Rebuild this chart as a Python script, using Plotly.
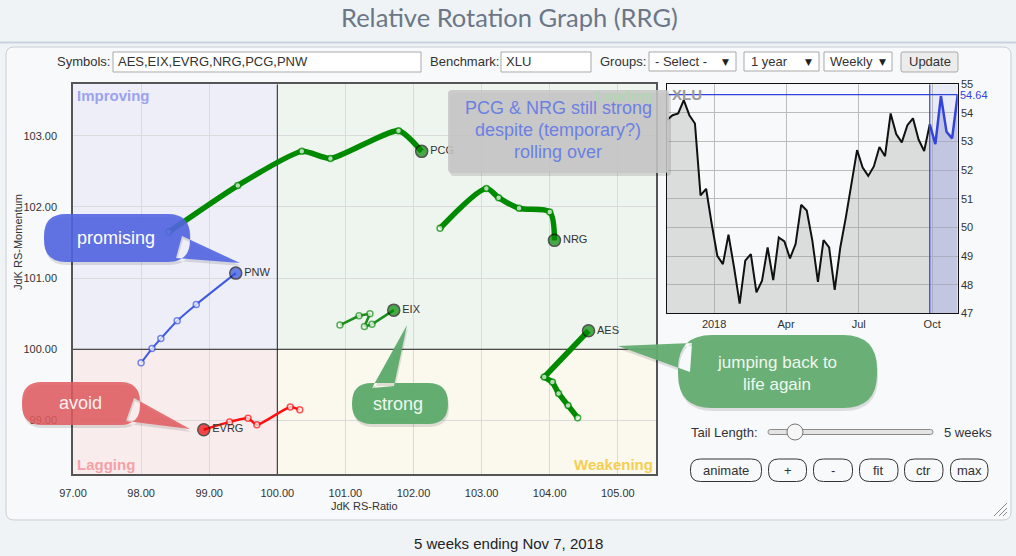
import plotly.graph_objects as go
import pandas as pd

W, H = 1016, 556

# ---------------- DATA ----------------
symbols = ["AES", "EIX", "EVRG", "NRG", "PCG", "PNW"]
aes_x = [104.41, 104.27, 104.13, 104.04, 103.92, 104.57]
aes_y = [99.04, 99.21, 99.38, 99.54, 99.61, 100.26]
eix_x = [100.92, 101.20, 101.36, 101.28, 101.39, 101.71]
eix_y = [100.34, 100.47, 100.50, 100.32, 100.35, 100.55]
evrg_x = [100.33, 100.19, 99.70, 99.57, 99.30, 98.92]
evrg_y = [99.15, 99.19, 98.94, 99.03, 98.98, 98.87]
nrg_x = [102.39, 103.07, 103.25, 103.55, 104.00, 104.07]
nrg_y = [101.70, 102.26, 102.13, 101.98, 101.93, 101.53]
pcg_x = [98.41, 99.42, 100.36, 100.78, 101.78, 102.12]
pcg_y = [101.65, 102.30, 102.78, 102.68, 103.07, 102.78]
pnw_x = [98.00, 98.16, 98.29, 98.53, 98.81, 99.39]
pnw_y = [99.81, 100.01, 100.15, 100.40, 100.63, 101.07]

x_ticks = [97, 98, 99, 100, 101, 102, 103, 104, 105]
y_ticks = [99, 100, 101, 102, 103]

xlu_close = [53.75, 53.92, 53.98, 54.45, 53.92, 53.63, 51.12, 51.35, 50.12, 49.01,
             48.72, 49.75, 48.60, 47.34, 48.84, 49.07, 47.73, 48.14, 49.30, 48.16,
             49.65, 49.51, 48.92, 49.42, 50.79, 50.59, 49.54, 48.10, 49.56, 49.30,
             47.82, 49.30, 50.36, 51.53, 52.70, 52.09, 51.80, 52.13, 52.81, 52.49,
             53.98, 53.26, 52.97, 53.57, 53.81, 53.07, 52.67, 53.60, 52.91, 54.59,
             53.34, 53.11, 54.64]
xlu_dates = list(pd.date_range(end="2018-11-02", periods=len(xlu_close), freq="7D"))
xlu_last = 54.64
tail_weeks = 5
mini_tickvals = ["2018-01-01", "2018-04-01", "2018-07-01", "2018-10-01"]
mini_ticktext = ["2018", "Apr", "Jul", "Oct"]
mini_yticks = [47, 48, 49, 50, 51, 52, 53, 54, 55]

FONT = "Liberation Sans, Arial, sans-serif"


def X(p):
    return p / W


def Y(p):
    return 1 - p / H


def rr_path(x0, y0, x1, y1, r, dx=0, dy=0):
    x0 += dx; x1 += dx; y0 += dy; y1 += dy
    f = lambda a, b: f"{X(a):.5f},{Y(b):.5f}"
    return (f"M {f(x0 + r, y0)} L {f(x1 - r, y0)} Q {f(x1, y0)} {f(x1, y0 + r)} "
            f"L {f(x1, y1 - r)} Q {f(x1, y1)} {f(x1 - r, y1)} L {f(x0 + r, y1)} "
            f"Q {f(x0, y1)} {f(x0, y1 - r)} L {f(x0, y0 + r)} Q {f(x0, y0)} {f(x0 + r, y0)} Z")


def tri_path(pts, dx=0, dy=0):
    pts = [(a + dx, b + dy) for a, b in pts]
    area = sum(pts[i][0] * pts[(i + 1) % 3][1] - pts[(i + 1) % 3][0] * pts[i][1] for i in range(3))
    if area < 0:
        pts = pts[::-1]
    return "M " + " L ".join(f"{X(a):.5f},{Y(b):.5f}" for a, b in pts) + " Z"


shapes = []
annotations = []


def ann(text, x, y, size=13, color="#333", xanchor="center", family=FONT, bold=False, angle=0):
    if bold:
        text = f"<b>{text}</b>"
    annotations.append(dict(text=text, x=X(x), y=Y(y), xref="paper", yref="paper",
                            xanchor=xanchor, yanchor="middle", showarrow=False,
                            textangle=angle, font=dict(size=size, color=color, family=family)))


def rect(x0, y0, x1, y1, fill, line="#aaa", lw=1, r=0, layer="above"):
    if r > 0:
        shapes.append(dict(type="path", path=rr_path(x0, y0, x1, y1, r), xref="paper", yref="paper",
                           fillcolor=fill, line=dict(color=line, width=lw), layer=layer))
    else:
        shapes.append(dict(type="rect", x0=X(x0), x1=X(x1), y0=Y(y0), y1=Y(y1), xref="paper",
                           yref="paper", fillcolor=fill, line=dict(color=line, width=lw), layer=layer))


def bubble(box, r, tri, color, opacity=1.0):
    x0, y0, x1, y1 = box
    sp = rr_path(x0, y0, x1, y1, r, 1, 3) + " " + tri_path(tri, 1, 3)
    shapes.append(dict(type="path", path=sp, xref="paper", yref="paper",
                       fillcolor="rgba(0,0,0,0.11)", line=dict(width=0), layer="above"))
    p = rr_path(x0, y0, x1, y1, r) + " " + tri_path(tri)
    shapes.append(dict(type="path", path=p, xref="paper", yref="paper", fillcolor=color,
                       opacity=opacity, line=dict(width=0), layer="above"))


# ---------------- page / panel ----------------
shapes.append(dict(type="line", x0=0, x1=1, y0=Y(42.5), y1=Y(42.5), xref="paper", yref="paper",
                   line=dict(color="#c9d3de", width=2), layer="below"))
rect(6, 47, 1011, 520, "#f8f9fa", line="#c9cdd2", lw=1, r=8, layer="below")

# ---------------- quadrants (data coords) ----------------
xr = [97, 105.561]
yr = [98.244, 103.722]
quads = [(xr[0], 100, 100, yr[1], "#eeeef9"), (100, 100, xr[1], yr[1], "#eef4ee"),
         (xr[0], yr[0], 100, 100, "#f9ecec"), (100, yr[0], xr[1], 100, "#fbf8ee")]
for a, b, c, d, col in quads:
    shapes.append(dict(type="rect", xref="x", yref="y", x0=a, x1=c, y0=b, y1=d,
                       fillcolor=col, line=dict(width=0), layer="below"))
shapes.append(dict(type="line", xref="x", yref="y", x0=100, x1=100, y0=yr[0], y1=yr[1],
                   line=dict(color="#222", width=1), layer="between"))
shapes.append(dict(type="line", xref="x", yref="y", x0=xr[0], x1=xr[1], y0=100, y1=100,
                   line=dict(color="#222", width=1), layer="between"))

# mini-chart highlight region & lines
shapes.append(dict(type="rect", xref="x2", yref="y2", x0=xlu_dates[-1 - tail_weeks], x1=xlu_dates[-1],
                   y0=47, y1=55, fillcolor="rgba(185,190,235,0.25)", line=dict(width=0), layer="below"))
shapes.append(dict(type="line", xref="x2", yref="y2", x0=xlu_dates[-1 - tail_weeks], x1=xlu_dates[-1 - tail_weeks],
                   y0=47, y1=55, line=dict(color="#3344dd", width=1.2), layer="above"))
shapes.append(dict(type="line", xref="x2", yref="y2", x0=xlu_dates[0], x1=xlu_dates[-1],
                   y0=xlu_last, y1=xlu_last, line=dict(color="#3344dd", width=1.2), layer="above"))

fig = go.Figure()

# ---------------- RRG trails ----------------
series = [
    ("PCG", pcg_x, pcg_y, "#008a00", "#008a00", 5.5, "spline", 0.6),
    ("NRG", nrg_x, nrg_y, "#008a00", "#008a00", 5.5, "spline", 0.8),
    ("AES", aes_x, aes_y, "#008a00", "#008a00", 5.5, "linear", 0),
    ("EIX", eix_x, eix_y, "#1a8f1a", "#008a00", 2.5, "linear", 0),
    ("PNW", pnw_x, pnw_y, "#3f5ae0", "#3050e0", 2, "spline", 0.5),
    ("EVRG", evrg_x, evrg_y, "#ff1010", "#ee0000", 2.5, "spline", 0.6),
]
for name, xs, ys, lc, hc, lw, shape, sm in series:
    n = len(xs)
    line = dict(color=lc, width=lw, shape=shape)
    if shape == "spline":
        line["smoothing"] = sm
    fig.add_trace(go.Scatter(
        x=xs, y=ys, mode="lines+markers+text", xaxis="x", yaxis="y", line=line,
        marker=dict(size=[6] * (n - 1) + [12], color=["white"] * (n - 1) + [hc],
                    line=dict(color=[lc] * (n - 1) + ["#111"], width=[1.5] * (n - 1) + [1.5])),
        text=[""] * (n - 1) + [name], textposition="middle right",
        textfont=dict(size=11, color="#333", family=FONT),
        hoverinfo="skip", showlegend=False))

# ---------------- mini benchmark chart ----------------
k = len(xlu_close) - 1 - tail_weeks
fig.add_trace(go.Scatter(x=xlu_dates[:k + 1], y=xlu_close[:k + 1], mode="lines", xaxis="x2", yaxis="y2",
                         line=dict(color="#111", width=2), fill="tozeroy",
                         fillcolor="rgba(160,160,160,0.32)", hoverinfo="skip", showlegend=False))
fig.add_trace(go.Scatter(x=xlu_dates[k:], y=xlu_close[k:], mode="lines", xaxis="x2", yaxis="y2",
                         line=dict(color="#3344dd", width=2.5), fill="tozeroy",
                         fillcolor="rgba(150,155,200,0.45)", hoverinfo="skip", showlegend=False))

# ---------------- callouts ----------------
bubble((44, 214, 190, 262), 22, [(182, 236), (176, 258), (240, 263)], "rgb(82,102,226)", 0.9)
ann("promising", 116, 238, size=18, color="white")
bubble((22, 382, 140, 425), 20, [(134, 398), (126, 421), (190, 429)], "rgb(226,92,96)", 0.86)
ann("avoid", 80, 403, size=18, color="#fff0f0")
bubble((352, 383, 448, 424), 20, [(372, 388), (394, 386), (407, 325)], "rgb(92,170,108)", 0.95)
ann("strong", 398, 404, size=18, color="#eef8ee")
bubble((678, 335, 877, 408), 34, [(692, 343), (690, 372), (618, 346)], "rgb(98,172,112)", 0.95)
ann("jumping back to", 777, 362, size=17, color="#eef8ee")
ann("life again", 777, 384, size=17, color="#eef8ee")

# grey note box
shapes.append(dict(type="path", path=rr_path(448, 90, 669, 173, 4, 2, 3), xref="paper", yref="paper",
                   fillcolor="rgba(0,0,0,0.12)", line=dict(width=0), layer="above"))
shapes.append(dict(type="path", path=rr_path(448, 90, 669, 173, 4), xref="paper", yref="paper",
                   fillcolor="rgba(198,198,198,0.88)", line=dict(width=0), layer="above"))
for t, yy in [("PCG &amp; NRG still strong", 108), ("despite (temporary?)", 130), ("rolling over", 152)]:
    ann(t, 558, yy, size=18, color="rgb(108,128,226)")

# quadrant labels
ann("Improving", 75, 95, size=15, color="#9ba2ee", xanchor="left", bold=True)
ann("Leading", 655, 95, size=15, color="#b3d6b3", xanchor="right", bold=True)
ann("Lagging", 75, 464, size=15, color="#f3a1a8", xanchor="left", bold=True)
ann("Weakening", 655, 464, size=15, color="#f2cf52", xanchor="right", bold=True)

# axis titles
ann("JdK RS-Ratio", 364.5, 506, size=11, color="#333")
ann("JdK RS-Momentum", 18, 242, size=11, color="#333", angle=-90)

# mini chart texts
ann("XLU", 670, 94, size=15, color="#9a9a9a", xanchor="left", bold=True)
ann("54.64", 958, 95, size=11, color="#3344dd", xanchor="left")

# ---------------- title & footer ----------------
ann("Relative Rotation Graph (RRG)", 509, 17, size=25.5, color="#6b7786", family="Lato, sans-serif")
ann("5 weeks ending Nov 7, 2018", 508, 543, size=15, color="#222")

# ---------------- control row ----------------
ann("Symbols:", 55, 62, size=13, xanchor="left")
rect(113, 52, 421, 72, "white", line="#a9a9a9")
ann("AES,EIX,EVRG,NRG,PCG,PNW", 116, 62, size=13, xanchor="left")
ann("Benchmark:", 428, 62, size=13, xanchor="left")
rect(501, 52, 591, 72, "white", line="#a9a9a9")
ann("XLU", 504, 62, size=13, xanchor="left")
ann("Groups:", 598, 62, size=13, xanchor="left")
rect(649, 52, 736, 71, "white", line="#a9a9a9")
ann("- Select -", 653, 62, size=13, xanchor="left")
ann("▼", 725, 62, size=9, family="DejaVu Sans", color="#222")
rect(744, 52, 819, 71, "white", line="#a9a9a9")
ann("1 year", 749, 62, size=13, xanchor="left")
ann("▼", 808, 62, size=9, family="DejaVu Sans", color="#222")
rect(824, 52, 892, 71, "white", line="#a9a9a9")
ann("Weekly", 828, 62, size=13, xanchor="left")
ann("▼", 882, 62, size=9, family="DejaVu Sans", color="#222")
rect(901, 52, 958, 72, "#ececec", line="#a9a9a9", r=2)
ann("Update", 929.5, 62, size=13)

# ---------------- slider & buttons ----------------
ann("Tail Length:", 689, 432, size=13, xanchor="left")
rect(768, 429.5, 933, 434.5, "#e4e4e4", line="#8a8a8a", r=2.4)
shapes.append(dict(type="circle", xref="paper", yref="paper", x0=X(787), x1=X(803), y0=Y(424), y1=Y(440),
                   fillcolor="#f6f6f6", line=dict(color="#777", width=1), layer="above"))
ann("5 weeks", 942, 432, size=13, xanchor="left")
for label, a, b in [("animate", 690.5, 761.5), ("+", 768.5, 806.5), ("-", 813.5, 852.5),
                    ("fit", 859.5, 898), ("ctr", 904.5, 943), ("max", 950.5, 988)]:
    rect(a, 459, b, 481.5, "#f8f9fa", line="#333", lw=1, r=10)
    ann(label, (a + b) / 2, 470.5, size=13)

# resize grip
for (a, b, c, d) in [(1007, 503, 994, 516), (1007, 508, 999, 516), (1007, 512, 1003, 516)]:
    shapes.append(dict(type="line", xref="paper", yref="paper", x0=X(a), y0=Y(b), x1=X(c), y1=Y(d),
                       line=dict(color="#888", width=1), layer="above"))

fig.update_layout(
    width=W, height=H, margin=dict(l=0, r=0, t=0, b=0, pad=0, autoexpand=False),
    paper_bgcolor="#eff3f6", plot_bgcolor="#f7f7f7",
    font=dict(family=FONT, size=11, color="#333"),
    showlegend=False, shapes=shapes, annotations=annotations,
    xaxis=dict(domain=[X(73), X(656)], range=xr, tickvals=x_ticks, tickformat=".2f",
               showgrid=True, gridcolor="#dadada", gridwidth=1, zeroline=False,
               showline=True, mirror=True, linecolor="#555", linewidth=1.5, automargin=False,
               ticks="", ticklabelstandoff=8, tickfont=dict(size=11, color="#333"),
               anchor="y", fixedrange=True),
    yaxis=dict(domain=[Y(474.3), Y(84.3)], range=yr, tickvals=y_ticks, tickformat=".2f",
               showgrid=True, gridcolor="#dadada", gridwidth=1, zeroline=False,
               showline=True, mirror=True, linecolor="#555", linewidth=1.5, automargin=False,
               ticks="", ticklabelstandoff=12, tickfont=dict(size=11, color="#333"),
               anchor="x", fixedrange=True),
    xaxis2=dict(domain=[X(667), X(957.7)], range=[xlu_dates[0], xlu_dates[-1]],
                tickvals=mini_tickvals, ticktext=mini_ticktext, automargin=False,
                showgrid=True, gridcolor="#bcbcbc", zeroline=False,
                showline=True, mirror=True, linecolor="#111", linewidth=1,
                ticks="", tickfont=dict(size=11, color="#333"), anchor="y2", fixedrange=True),
    yaxis2=dict(domain=[Y(313.3), Y(84.3)], range=[47, 55], tickvals=mini_yticks, side="right",
                showgrid=True, gridcolor="#bcbcbc", zeroline=False, automargin=False,
                showline=True, mirror=True, linecolor="#111", linewidth=1,
                ticks="", tickfont=dict(size=11, color="#333"), anchor="x2", fixedrange=True),
)

fig.write_html("out.html",
               post_script="document.body.style.margin='0';document.body.style.overflow='hidden';")
